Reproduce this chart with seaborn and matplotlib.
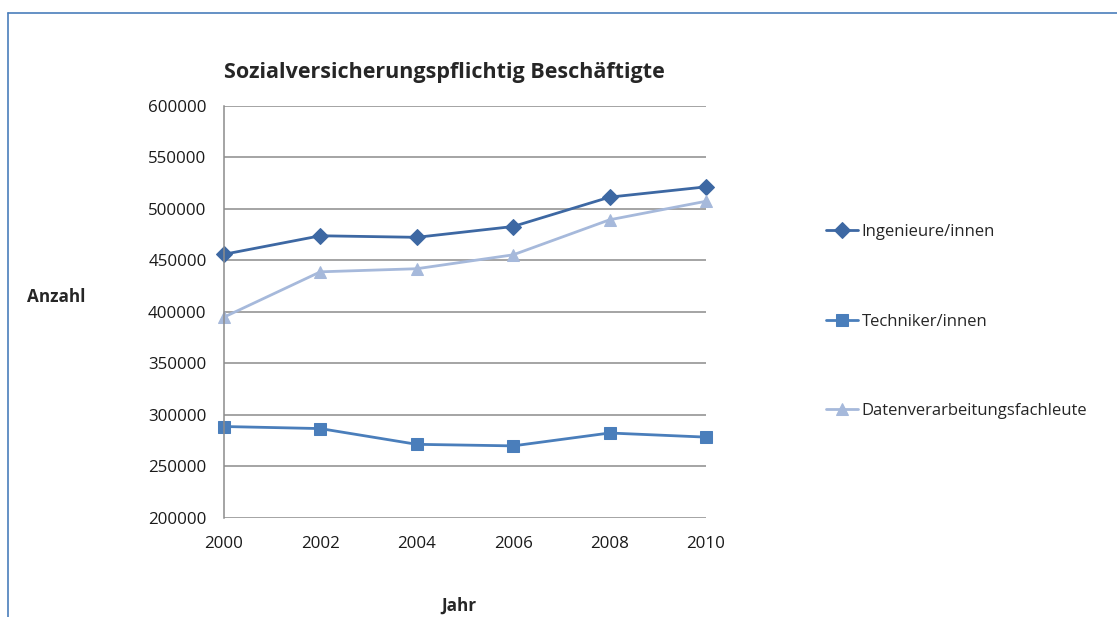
import pandas as pd
import seaborn as sns
import matplotlib.pyplot as plt
from matplotlib.lines import Line2D

# values
jahre = [2000, 2002, 2004, 2006, 2008, 2010]
ingenieure = [456000, 474000, 472500, 483000, 511500, 521500]
techniker = [288800, 286800, 271500, 270000, 282500, 278500]
datenverarbeitung = [395000, 439000, 442000, 455500, 489500, 507500]

serien = ["Ingenieure/innen", "Techniker/innen", "Datenverarbeitungsfachleute"]
farben = ["#3D68A3", "#4A7EBB", "#A6B9DB"]
marker = ["D", "s", "^"]
y_ticks = [200000, 250000, 300000, 350000, 400000, 450000, 500000, 550000, 600000]

df = pd.DataFrame({
    "Jahr": jahre * 3,
    "Anzahl": ingenieure + techniker + datenverarbeitung,
    "Serie": [serien[0]] * 6 + [serien[1]] * 6 + [serien[2]] * 6,
})

sns.set_style("white")
plt.rcParams["font.family"] = ["Open Sans", "DejaVu Sans"]

fig = plt.figure(figsize=(11.17, 6.17), dpi=100)
ax = fig.add_axes([0.2005, 0.1605, 0.4315, 0.6677])

for name, col, m in zip(serien, farben, marker):
    sub = df[df["Serie"] == name]
    sns.lineplot(data=sub, x="Jahr", y="Anzahl", ax=ax, color=col, marker=m,
                 markersize=8 if m != "^" else 9, markeredgecolor=col,
                 linewidth=2, label=name, clip_on=False)

ax.set_xlim(2000, 2010)
ax.set_ylim(200000, 600000)
ax.set_xticks(jahre)
ax.set_yticks(y_ticks)
ax.yaxis.grid(True, color="#8c8c8c", linewidth=1.1)
ax.set_axisbelow(True)
for s in ["top", "right", "bottom"]:
    ax.spines[s].set_visible(False)
ax.spines["left"].set_color("#8c8c8c")
ax.spines["left"].set_linewidth(1.1)
ax.tick_params(axis="both", direction="out", length=5, width=1.1, color="#8c8c8c",
               labelsize=12.2, labelcolor="#1a1a1a")
ax.tick_params(axis="y", pad=7.5)
ax.tick_params(axis="x", pad=8)
ax.set_xlabel("")
ax.set_ylabel("")

ax.set_title("Sozialversicherungspflichtig Beschäftigte", fontsize=15.5, fontweight="bold",
             pad=20, x=0.458)
fig.text(0.024, 0.518, "Anzahl", fontsize=12.3, fontweight="bold", va="center", ha="left")
fig.text(0.395, 0.018, "Jahr", fontsize=12.3, fontweight="bold", va="center", ha="left")

ax.legend(loc="upper left", bbox_to_anchor=(1.235, 0.729), frameon=False, fontsize=12,
          labelspacing=4.4, handlelength=1.9, handletextpad=0.25, borderaxespad=0)

# blue frame line at top and left like the original document
fig.add_artist(Line2D([0.007, 1.0], [0.979, 0.979], transform=fig.transFigure,
                      color="#4A7EBB", linewidth=1.2))
fig.add_artist(Line2D([0.007, 0.007], [0.0, 0.979], transform=fig.transFigure,
                      color="#4A7EBB", linewidth=1.2))

fig.savefig("out.png", dpi=100)
